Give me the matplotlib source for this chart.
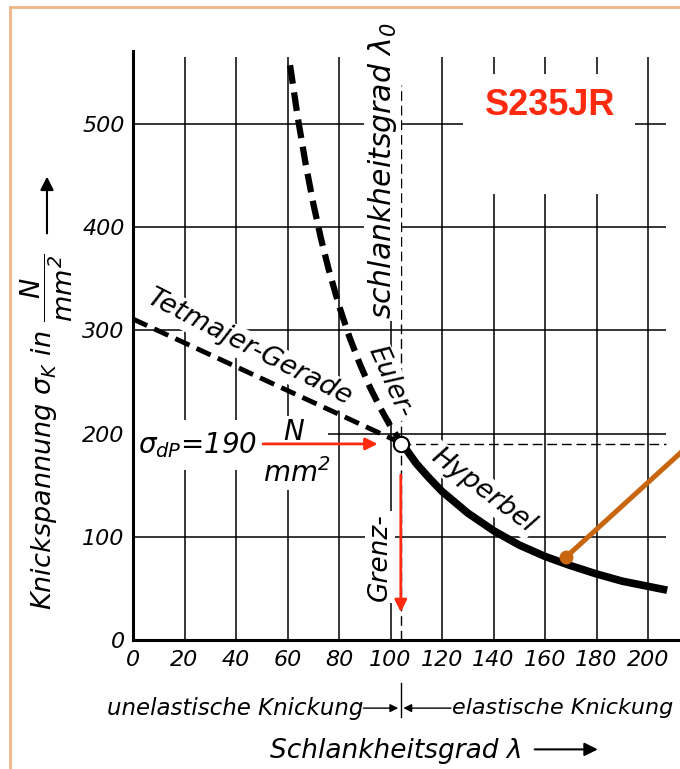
import matplotlib
matplotlib.use("Agg")
import matplotlib.pyplot as plt
from matplotlib.lines import Line2D
from matplotlib.patches import Rectangle

plt.rcParams['font.family'] = ['DejaVu Sans']
plt.rcParams['font.style'] = 'italic'
plt.rcParams['mathtext.default'] = 'it'

# values
lam_ticks = [0, 20, 40, 60, 80, 100, 120, 140, 160, 180, 200]
sigma_ticks = [0, 100, 200, 300, 400, 500]
tetmajer_lam = [0, 104]
tetmajer_sigma = [311, 191]
euler_lam = [61, 64, 67, 70, 73, 76, 80, 84, 88, 92, 96, 100, 104]
euler_sigma = [557, 506, 462, 423, 389, 359, 324, 294, 268, 245, 225, 207, 192]
hyper_lam = [104, 110, 115, 120, 130, 140, 150, 160, 170, 180, 190, 200, 206]
hyper_sigma = [192, 171, 157, 144, 123, 106, 92, 81, 72, 64, 57, 52, 49]
lambda0 = 104
sigma_dp = 190
pointer_lam = [168, 216]
pointer_sigma = [80, 189]

red = '#ff2a10'
fig = plt.figure(figsize=(6.8, 7.69), dpi=100)
ax = fig.add_axes([133/680, 1 - 640/769, 212*2.575/680, 571*1.032/769])
ax.set_xlim(0, 212)
ax.set_ylim(0, 571)
for s in ['top', 'right']:
    ax.spines[s].set_visible(False)
for s in ['left', 'bottom']:
    ax.spines[s].set_linewidth(2.2)
ax.set_xticks(lam_ticks)
ax.set_yticks(sigma_ticks)
ax.tick_params(length=0, labelsize=16)
ax.tick_params(axis='x', pad=7)
ax.tick_params(axis='y', pad=6)

# grid
ax.vlines(lam_ticks[1:], 0, 565, color='black', lw=1.1, zorder=1)
ax.hlines(sigma_ticks[1:], 0, 207, color='black', lw=1.1, zorder=1)

# white covers behind labels
ax.add_patch(Rectangle((0.8, 165), 75, 48, facecolor='white', edgecolor='none', zorder=2))
ax.add_patch(Rectangle((128, 432), 67, 116, facecolor='white', edgecolor='none', zorder=2))

ax.plot([lambda0, lambda0], [0, 538], color='black', lw=1, dashes=(7, 3.5), zorder=1.5)
ax.plot([lambda0, lambda0], [-42, -75], color='black', lw=1, clip_on=False)
ax.plot([lambda0, 207], [sigma_dp, sigma_dp], color='black', lw=1, dashes=(7, 3.5), zorder=1.5)

ax.plot(tetmajer_lam, tetmajer_sigma, color='black', lw=3.5, dashes=(3.2, 1.6), zorder=5)
ax.plot(euler_lam, euler_sigma, color='black', lw=4.5, dashes=(3, 1.4), zorder=5)
ax.plot(hyper_lam, hyper_sigma, color='black', lw=5.5, zorder=5)
ax.plot(lambda0, sigma_dp, 'o', ms=11, mfc='white', mec='black', mew=1.5, zorder=7)

ax.annotate('', xy=(95, sigma_dp), xytext=(50.5, sigma_dp),
            arrowprops=dict(arrowstyle='-|>', color=red, lw=2, mutation_scale=18, shrinkA=0, shrinkB=0), zorder=6)
ax.annotate('', xy=(lambda0, 27), xytext=(lambda0, 160),
            arrowprops=dict(arrowstyle='-|>', color=red, lw=2, mutation_scale=18, shrinkA=0, shrinkB=0), zorder=6)

bb = dict(facecolor='white', edgecolor='none', pad=1.5)
ax.text(2, 189, r'$\sigma_{dP}$=190', fontsize=20, ha='left', va='center', bbox=bb, zorder=3)
ax.text(62.5, 202, 'N', fontsize=20, ha='center', va='center', bbox=bb, zorder=3)
ax.text(63.7, 162, r'mm$^2$', fontsize=20, ha='center', va='center', bbox=bb, zorder=3)

ax.text(45.4, 283, 'Tetmajer-Gerade', rotation=-27, fontsize=19.5, ha='center', va='center', bbox=bb, zorder=3)
ax.text(100, 250, 'Euler-', rotation=-66, fontsize=19, ha='center', va='center', bbox=bb, zorder=3)
ax.text(136, 145, 'Hyperbel', rotation=-37, fontsize=19.5, ha='center', va='center', bbox=bb, zorder=3)
ax.text(96, 80, 'Grenz-', rotation=90, fontsize=19, ha='center', va='center', bbox=bb, zorder=3)
ax.text(97, 311, r'schlankheitsgrad $\lambda_0$', rotation=90, fontsize=21.5, ha='center', va='bottom',
        bbox=bb, zorder=3, clip_on=False)

ax.text(162, 518, 'S235JR', color=red, fontsize=26, fontweight='bold', fontstyle='normal',
        family=['Liberation Sans', 'DejaVu Sans'], ha='center', va='center', zorder=4)

ax.plot(pointer_lam, pointer_sigma, color='#c8650f', lw=3.6, clip_on=False, zorder=6)
ax.plot(pointer_lam[0], pointer_sigma[0], 'o', color='#c8650f', ms=9, zorder=6)

# labels under the axis
ax.text(89.3, -66, 'unelastische Knickung', fontsize=16.5, ha='right', va='center', clip_on=False)
ax.text(123.9, -66, 'elastische Knickung', fontsize=16, ha='left', va='center', clip_on=False)
ax.annotate('', xy=(103, -66), xytext=(89.5, -66), annotation_clip=False,
            arrowprops=dict(arrowstyle='-|>', color='black', lw=1, mutation_scale=12, shrinkA=0, shrinkB=0))
ax.annotate('', xy=(105, -66), xytext=(123.5, -66), annotation_clip=False,
            arrowprops=dict(arrowstyle='-|>', color='black', lw=1, mutation_scale=12, shrinkA=0, shrinkB=0))

ax.text(53.2, -108, 'Schlankheitsgrad λ', fontsize=19, ha='left', va='center', clip_on=False)
ax.annotate('', xy=(180.5, -106), xytext=(156, -106), annotation_clip=False,
            arrowprops=dict(arrowstyle='-|>', color='black', lw=1.5, mutation_scale=20, shrinkA=0, shrinkB=0))

ax.text(-33.4, 29, r'Knickspannung $\sigma_K$ in $\dfrac{N}{mm^2}$', rotation=90, fontsize=19.5,
        ha='center', va='bottom', clip_on=False)
ax.annotate('', xy=(-33.4, 449), xytext=(-33.4, 394), annotation_clip=False,
            arrowprops=dict(arrowstyle='-|>', color='black', lw=1.5, mutation_scale=20, shrinkA=0, shrinkB=0))

# frame
fig.add_artist(Line2D([10/680, 1.0], [1 - 7/769, 1 - 7/769], transform=fig.transFigure, color='#eeb585', lw=2))
fig.add_artist(Line2D([10/680, 10/680], [0, 1 - 7/769], transform=fig.transFigure, color='#eeb585', lw=2))

fig.savefig('out.png', dpi=100)
